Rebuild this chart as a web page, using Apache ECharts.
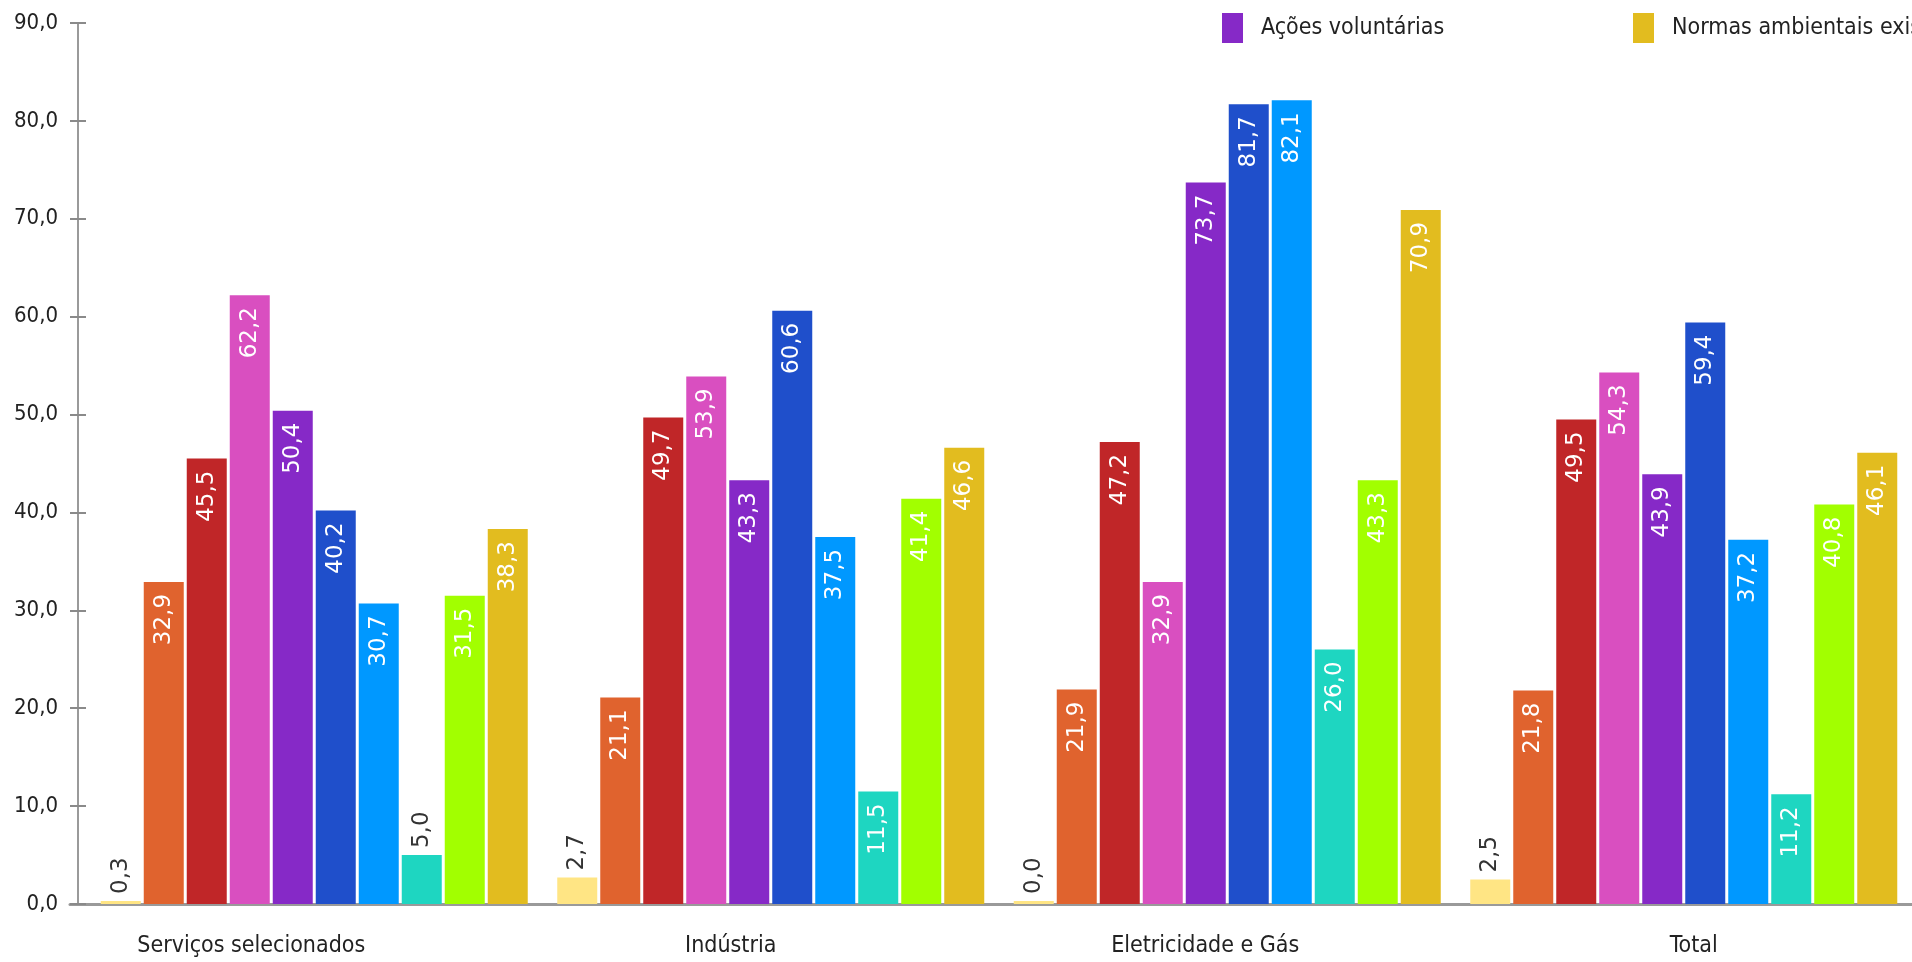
<!DOCTYPE html>
<html>
<head>
<meta charset="utf-8">
<script src="https://cdn.jsdelivr.net/npm/echarts@6/dist/echarts.min.js"></script>
<style>
html,body{margin:0;padding:0;background:#fff;}
#chart{width:1912px;height:962px;}
</style>
</head>
<body>
<div id="chart"></div>
<script>
// ---- data ----
const categories = ['Serviços selecionados', 'Indústria', 'Eletricidade e Gás', 'Total'];
const servicos     = [0.3, 32.9, 45.5, 62.2, 50.4, 40.2, 30.7, 5.0, 31.5, 38.3];
const industria    = [2.7, 21.1, 49.7, 53.9, 43.3, 60.6, 37.5, 11.5, 41.4, 46.6];
const eletricidade = [0.0, 21.9, 47.2, 32.9, 73.7, 81.7, 82.1, 26.0, 43.3, 70.9];
const total        = [2.5, 21.8, 49.5, 54.3, 43.9, 59.4, 37.2, 11.2, 40.8, 46.1];
const seriesNames  = ['S1', 'S2', 'S3', 'S4', 'Ações voluntárias', 'S6', 'S7', 'S8', 'S9', 'Normas ambientais existentes'];
const yMin = 0, yMax = 90, yStep = 10;

// ---- style ----
const colors = ['#FFE584', '#E0632E', '#C02628', '#D94FC0', '#8629C7', '#1F4FCB', '#0098FF', '#1ED6C1', '#A2FF00', '#E2BC1F'];
const narrow = '"Liberation Sans Narrow", "DejaVu Sans Condensed", "Noto Sans", sans-serif';
const byCat = [servicos, industria, eletricidade, total];
const fmt = v => v.toFixed(1).replace('.', ',');
const labelShift = [-63, -40, -22, 10];

const series = seriesNames.map((name, s) => ({
  name: name,
  type: 'bar',
  barWidth: 40,
  barGap: '7.5%',
  barMinHeight: 3,
  itemStyle: { color: colors[s] },
  data: byCat.map(vals => {
    const v = vals[s];
    const outside = v < 8;
    return {
      value: v,
      label: outside ? {
        show: true, position: 'top', rotate: 90, align: 'left', verticalAlign: 'middle',
        distance: 7, color: '#333', fontSize: 23, fontFamily: '"DejaVu Sans", sans-serif',
        formatter: p => fmt(p.value)
      } : {
        show: true, position: 'insideTop', rotate: 90, align: 'right', verticalAlign: 'middle',
        distance: 12, color: '#fff', fontSize: 23, fontFamily: '"DejaVu Sans", sans-serif',
        formatter: p => fmt(p.value)
      }
    };
  })
}));

const legendText = { fontFamily: narrow, fontSize: 23, color: '#222', padding: [0, 0, 0, 13], overflow: 'none' };

const chart = echarts.init(document.getElementById('chart'), null, { renderer: 'canvas' });
chart.setOption({
  animation: false,
  backgroundColor: '#fff',
  legend: [
    {
      data: ['Ações voluntárias'], left: 1217, top: 8, icon: 'rect', itemWidth: 21, itemHeight: 30,
      selectedMode: false, textStyle: legendText
    },
    {
      data: ['Normas ambientais existentes'], left: 1628, top: 8, icon: 'rect', itemWidth: 21, itemHeight: 30,
      selectedMode: false, textStyle: legendText
    }
  ],
  grid: [
    { left: 86, right: -2, top: 23, bottom: 58 },
    { left: 70, right: 0, top: 23, bottom: 58 }
  ],
  xAxis: [
    {
      type: 'category', gridIndex: 0,
      data: categories.map((c, i) => ({
        value: c,
        textStyle: { padding: labelShift[i] < 0 ? [0, -labelShift[i] * 2, 0, 0] : [0, 0, 0, labelShift[i] * 2] }
      })),
      axisLine: { show: false },
      axisTick: { show: false },
      axisLabel: { margin: 31, fontFamily: narrow, fontSize: 23, color: '#222' }
    },
    {
      type: 'value', gridIndex: 1, min: 0, max: 1, show: true,
      axisLine: { show: true, lineStyle: { color: '#9a9a9a', width: 3 } },
      axisTick: { show: false }, axisLabel: { show: false }, splitLine: { show: false }
    }
  ],
  yAxis: [
    {
      type: 'value', gridIndex: 0, position: 'left', min: yMin, max: yMax, interval: yStep, offset: 8,
      axisLine: { show: true, lineStyle: { color: '#9a9a9a', width: 2 } },
      axisTick: { show: true, length: 8, lineStyle: { color: '#8a8a8a', width: 2 } },
      splitLine: { show: false },
      axisLabel: { margin: 20, fontFamily: narrow, fontSize: 22, color: '#222', formatter: v => fmt(v) }
    },
    {
      type: 'value', gridIndex: 0, position: 'left', min: yMin, max: yMax, interval: yStep, offset: 8,
      axisLine: { show: false },
      axisTick: { show: true, inside: true, length: 8, lineStyle: { color: '#8a8a8a', width: 2 } },
      splitLine: { show: false }, axisLabel: { show: false }
    },
    {
      type: 'value', gridIndex: 1, min: 0, max: 1, show: false
    }
  ],
  series: series
});
</script>
</body>
</html>
